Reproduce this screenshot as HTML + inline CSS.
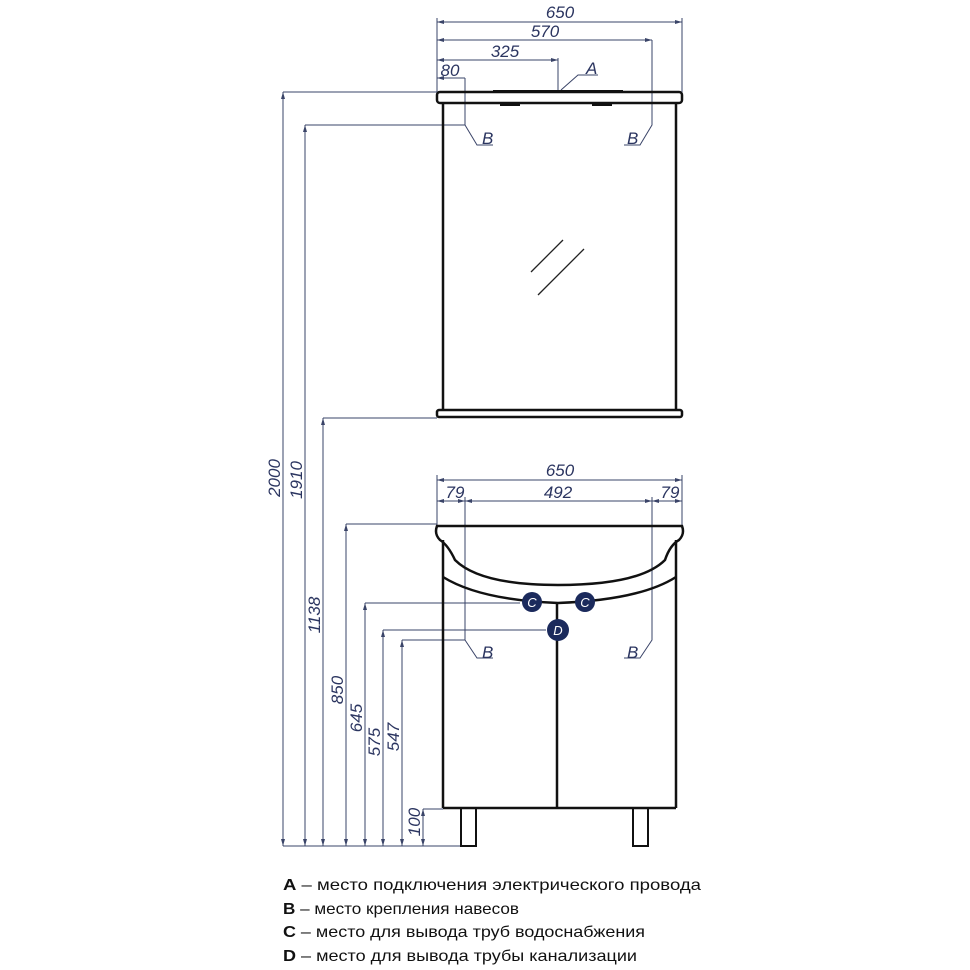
<!DOCTYPE html>
<html><head><meta charset="utf-8"><style>
html,body{margin:0;padding:0;background:#fff;}
svg{display:block}
.d{stroke:#3a4468;stroke-width:1;fill:none}
.o{stroke:#111;stroke-width:2.5;fill:none}
.t{font-family:"Liberation Sans",sans-serif;font-style:italic;font-size:17px;fill:#2b3560;}
.l{font-family:"Liberation Sans","DejaVu Sans",sans-serif;font-size:16px;fill:#111;}
</style></head><body>
<svg width="970" height="970" viewBox="0 0 970 970" xmlns="http://www.w3.org/2000/svg">
<defs><marker id="a" markerWidth="8" markerHeight="6" refX="7" refY="3" orient="auto-start-reverse" markerUnits="userSpaceOnUse"><path d="M0,1 L7,3 L0,5" fill="#3a4468"/></marker></defs>
<!-- top dims -->
<g class="d">
<line x1="437" y1="22" x2="682" y2="22" marker-start="url(#a)" marker-end="url(#a)"/>
<line x1="437" y1="40" x2="652" y2="40" marker-start="url(#a)" marker-end="url(#a)"/>
<line x1="437" y1="60" x2="558" y2="60" marker-start="url(#a)" marker-end="url(#a)"/>
<line x1="437" y1="78" x2="465" y2="78" marker-start="url(#a)"/>
<line x1="437" y1="18" x2="437" y2="95"/>
<line x1="682" y1="18" x2="682" y2="95"/>
<line x1="558" y1="58" x2="558" y2="92"/>
<polyline points="465,78 465,125 477,145 493,145"/>
<polyline points="652,40 652,125 640,145 624,145"/>
<polyline points="561,90 578,75 598,75"/>
<!-- left dims -->
<line x1="283" y1="92" x2="437" y2="92"/>
<line x1="305" y1="125" x2="465" y2="125"/>
<line x1="323" y1="418" x2="437" y2="418"/>
<line x1="346" y1="524" x2="437" y2="524"/>
<line x1="365" y1="603" x2="520" y2="603"/>
<line x1="383" y1="630" x2="546" y2="630"/>
<line x1="402" y1="640" x2="465" y2="640"/>
<line x1="423" y1="809" x2="443" y2="809"/>
<line x1="283" y1="846" x2="470" y2="846"/>
<line x1="283" y1="92" x2="283" y2="846" marker-start="url(#a)" marker-end="url(#a)"/>
<line x1="305" y1="125" x2="305" y2="846" marker-start="url(#a)" marker-end="url(#a)"/>
<line x1="323" y1="418" x2="323" y2="846" marker-start="url(#a)" marker-end="url(#a)"/>
<line x1="346" y1="524" x2="346" y2="846" marker-start="url(#a)" marker-end="url(#a)"/>
<line x1="365" y1="603" x2="365" y2="846" marker-start="url(#a)" marker-end="url(#a)"/>
<line x1="383" y1="630" x2="383" y2="846" marker-start="url(#a)" marker-end="url(#a)"/>
<line x1="402" y1="640" x2="402" y2="846" marker-start="url(#a)" marker-end="url(#a)"/>
<line x1="423" y1="809" x2="423" y2="846" marker-start="url(#a)" marker-end="url(#a)"/>
<!-- vanity dims -->
<line x1="437" y1="480" x2="682" y2="480" marker-start="url(#a)" marker-end="url(#a)"/>
<line x1="437" y1="501" x2="465" y2="501" marker-start="url(#a)" marker-end="url(#a)"/>
<line x1="465" y1="501" x2="652" y2="501" marker-start="url(#a)" marker-end="url(#a)"/>
<line x1="652" y1="501" x2="682" y2="501" marker-start="url(#a)" marker-end="url(#a)"/>
<line x1="437" y1="475" x2="437" y2="527"/>
<line x1="682" y1="475" x2="682" y2="527"/>
<polyline points="465,497 465,640 477,658 493,658"/>
<polyline points="652,497 652,640 640,658 624,658"/>
</g>
<g class="t">
<text x="560" y="18" text-anchor="middle">650</text>
<text x="545" y="37" text-anchor="middle">570</text>
<text x="505" y="57" text-anchor="middle">325</text>
<text x="450" y="76" text-anchor="middle">80</text>
<text x="586" y="74">A</text>
<text x="482" y="144">B</text>
<text x="627" y="144">B</text>
<text x="560" y="476" text-anchor="middle">650</text>
<text x="558" y="498" text-anchor="middle">492</text>
<text x="455" y="498" text-anchor="middle">79</text>
<text x="670" y="498" text-anchor="middle">79</text>
<text x="482" y="658">B</text>
<text x="627" y="658">B</text>
<text transform="translate(280,478) rotate(-90)" text-anchor="middle">2000</text>
<text transform="translate(302,480) rotate(-90)" text-anchor="middle">1910</text>
<text transform="translate(320,615) rotate(-90)" text-anchor="middle">1138</text>
<text transform="translate(343,690) rotate(-90)" text-anchor="middle">850</text>
<text transform="translate(362,718) rotate(-90)" text-anchor="middle">645</text>
<text transform="translate(380,742) rotate(-90)" text-anchor="middle">575</text>
<text transform="translate(399,737) rotate(-90)" text-anchor="middle">547</text>
<text transform="translate(420,822) rotate(-90)" text-anchor="middle">100</text>
</g>
<!-- mirror -->
<g class="o">
<rect x="437" y="92" width="245" height="11" rx="3"/>
<line x1="443" y1="103" x2="443" y2="410"/>
<line x1="676" y1="103" x2="676" y2="410"/>
<rect x="437" y="410" width="245" height="7" rx="2"/>
<line x1="493" y1="91" x2="623" y2="91" stroke-width="2"/>
</g>
<rect x="500" y="103" width="20" height="3" fill="#111"/>
<rect x="592" y="103" width="20" height="3" fill="#111"/>
<g stroke="#222" stroke-width="1.3">
<line x1="531" y1="272" x2="563" y2="240"/>
<line x1="538" y1="295" x2="584" y2="249"/>
</g>
<!-- vanity -->
<g class="o">
<path d="M437,526 L682,526 Q685,534 679,540 Q670,545 665,560 Q640,585 558,585 Q480,585 455,560 Q448,545 440,540 Q434,534 437,526 Z"/>
<path d="M443,577 Q480,600 558,603 Q640,600 676,577"/>
<line x1="443" y1="540" x2="443" y2="808"/>
<line x1="676" y1="540" x2="676" y2="808"/>
<line x1="443" y1="808" x2="676" y2="808"/>
<line x1="557" y1="603" x2="557" y2="808"/>
<rect x="461" y="808" width="15" height="38" stroke-width="2"/>
<rect x="633" y="808" width="15" height="38" stroke-width="2"/>
</g>
<g>
<circle cx="532" cy="602" r="10" fill="#1b2a5c"/>
<circle cx="585" cy="602" r="10" fill="#1b2a5c"/>
<circle cx="558" cy="630" r="11" fill="#1b2a5c"/>
<g font-family="Liberation Sans,sans-serif" font-style="italic" font-size="13" fill="#fff" text-anchor="middle">
<text x="532" y="607">C</text><text x="585" y="607">C</text><text x="558" y="635">D</text>
</g>
</g>
<!-- legend -->
<g class="l">
<text x="283" y="890" textLength="418" lengthAdjust="spacingAndGlyphs"><tspan font-weight="bold">A</tspan> – место подключения электрического провода</text>
<text x="283" y="914" textLength="236" lengthAdjust="spacingAndGlyphs"><tspan font-weight="bold">B</tspan> – место крепления навесов</text>
<text x="283" y="937" textLength="362" lengthAdjust="spacingAndGlyphs"><tspan font-weight="bold">C</tspan> – место для вывода труб водоснабжения</text>
<text x="283" y="961" textLength="354" lengthAdjust="spacingAndGlyphs"><tspan font-weight="bold">D</tspan> – место для вывода трубы канализации</text>
</g>
</svg>
</body></html>
